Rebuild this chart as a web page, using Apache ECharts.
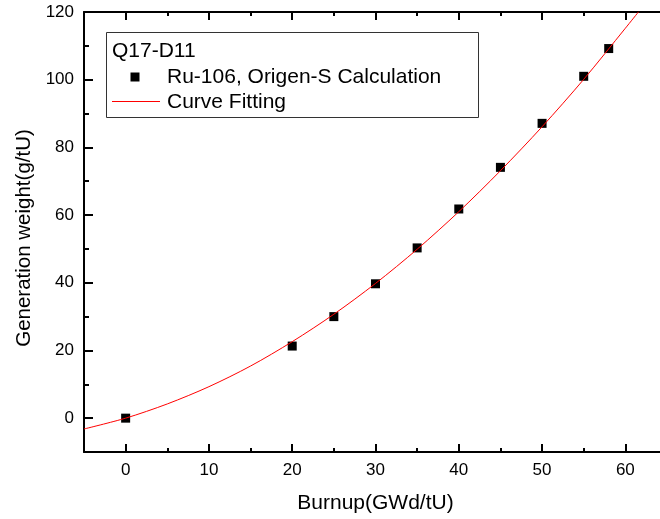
<!DOCTYPE html>
<html>
<head>
<meta charset="utf-8">
<script src="https://cdn.jsdelivr.net/npm/echarts@6/dist/echarts.min.js"></script>
<style>
html,body{margin:0;padding:0;background:#fff;overflow:hidden;}
#c{width:660px;height:519px;}
</style>
</head>
<body>
<div id="c"></div>
<script>
// ---- data ----
const xMajorTicks = [0, 10, 20, 30, 40, 50, 60];
const xMinorTicks = [5, 15, 25, 35, 45, 55];
const yMajorTicks = [0, 20, 40, 60, 80, 100, 120];
const yMinorTicks = [10, 30, 50, 70, 90, 110];

const burnup = [0, 20, 25, 30, 35, 40, 45, 50, 55, 58];
const weight = [0, 21.3, 30.0, 39.7, 50.3, 61.8, 74.1, 87.1, 101.0, 109.2];

const fitBurnup = [-5, 0, 5, 10, 15, 20, 25, 30, 35, 40, 45, 50, 55, 60, 61.6];
const fitWeight = [-3.2, 0, 4.2, 9.3, 15.4, 22.6, 30.7, 39.8, 49.9, 61.0, 73.1, 86.1, 100.1, 115.2, 120.1];

const legendTitle = 'Q17-D11';
const scatterName = 'Ru-106, Origen-S Calculation';
const lineName = 'Curve Fitting';
const xName = 'Burnup(GWd/tU)';
const yName = 'Generation weight(g/tU)';

const FONT = 'Liberation Sans, Arial, sans-serif';

const chart = echarts.init(document.getElementById('c'), null, {renderer: 'canvas'});

function xAxisDef(position, ticks, len, showLine, showLabels, name) {
  return {
    type: 'value', position: position, min: -5, max: 65, interval: 5,
    name: name || '', nameLocation: 'middle', nameGap: 41,
    nameTextStyle: {fontFamily: FONT, fontSize: 21, color: '#000'},
    axisLine: {show: showLine, onZero: false, lineStyle: {color: '#000', width: 2}},
    axisTick: {show: true, inside: true, length: len, customValues: ticks, lineStyle: {color: '#000', width: 2}},
    axisLabel: {show: showLabels, customValues: xMajorTicks, margin: 10, fontFamily: FONT, fontSize: 17, color: '#000'},
    splitLine: {show: false}
  };
}
function yAxisDef(position, ticks, len, showLine, showLabels, name) {
  return {
    type: 'value', position: position, min: -10, max: 120, interval: 10,
    name: name || '', nameLocation: 'middle', nameGap: 39,
    nameTextStyle: {fontFamily: FONT, fontSize: 20.5, color: '#000', padding: [0, 12, 0, 0]},
    axisLine: {show: showLine, onZero: false, lineStyle: {color: '#000', width: 2}},
    axisTick: {show: true, inside: true, length: len, customValues: ticks, lineStyle: {color: '#000', width: 2}},
    axisLabel: {show: showLabels, customValues: yMajorTicks, margin: 10, fontFamily: FONT, fontSize: 17, color: '#000'},
    splitLine: {show: false}
  };
}

const option = {
  backgroundColor: '#fff',
  animation: false,
  grid: {left: 84, top: 12, width: 583, bottom: 67, containLabel: false, outerBoundsMode: 'none'},
  xAxis: [
    xAxisDef('bottom', xMajorTicks, 8, true, true, xName),
    xAxisDef('bottom', xMinorTicks, 4, false, false),
    xAxisDef('top', xMajorTicks, 8, true, false),
    xAxisDef('top', xMinorTicks, 4, false, false)
  ],
  yAxis: [
    yAxisDef('left', yMajorTicks, 9, true, true, yName),
    yAxisDef('left', yMinorTicks, 5, false, false)
  ],
  series: [
    {
      type: 'scatter', name: scatterName, xAxisIndex: 0, yAxisIndex: 0,
      data: burnup.map((b, i) => [b, weight[i]]),
      symbol: 'rect', symbolSize: 9,
      itemStyle: {color: '#000', opacity: 1}, z: 2
    },
    {
      type: 'line', name: lineName, xAxisIndex: 0, yAxisIndex: 0,
      data: fitBurnup.map((b, i) => [b, fitWeight[i]]),
      smooth: 0.3, showSymbol: false, symbol: 'none', clip: true,
      lineStyle: {color: '#ff0000', width: 1}, z: 3
    }
  ],
  graphic: [
    {type: 'rect', shape: {x: 106.5, y: 32.5, width: 372, height: 85}, style: {fill: '#fff', stroke: '#333', lineWidth: 1}, z: 10},
    {type: 'text', x: 112, y: 51, style: {text: legendTitle, font: '21px ' + FONT, fill: '#000', textVerticalAlign: 'middle'}, z: 11},
    {type: 'rect', shape: {x: 130.5, y: 72.5, width: 9, height: 9}, style: {fill: '#000'}, z: 11},
    {type: 'text', x: 167, y: 77, style: {text: scatterName, font: '21px ' + FONT, fill: '#000', textVerticalAlign: 'middle'}, z: 11},
    {type: 'line', shape: {x1: 112, y1: 101.5, x2: 160, y2: 101.5}, style: {stroke: '#ff0000', lineWidth: 1}, z: 11},
    {type: 'text', x: 167, y: 102, style: {text: lineName, font: '21px ' + FONT, fill: '#000', textVerticalAlign: 'middle'}, z: 11}
  ]
};
chart.setOption(option);
</script>
</body>
</html>
